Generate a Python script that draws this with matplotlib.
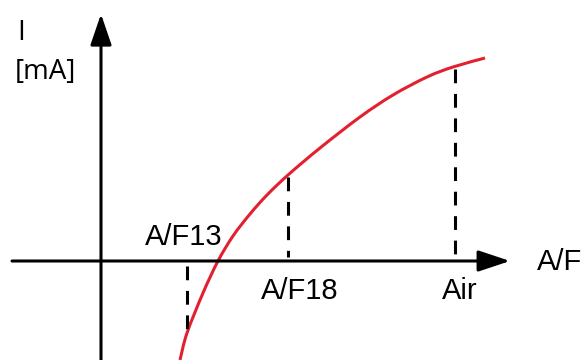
import matplotlib
matplotlib.use("Agg")
import matplotlib.pyplot as plt
import numpy as np
from matplotlib.path import Path
from matplotlib.patches import PathPatch

# Sensor current curve (schematic units; origin at axis crossing)
curve_x = [79, 86, 102, 117, 132, 149, 166, 187, 219, 259, 292, 326, 352, 384]
curve_y = [-99, -72, -32, 0, 25, 47, 66, 86, 113, 144, 166, 184, 194, 203]

# Marker positions (x) and the curve value there
marker_labels = ["A/F13", "A/F18", "Air"]
marker_x = [86, 187, 354]
marker_y = [-72, 86, 194]

fig = plt.figure(figsize=(5.85, 3.6), dpi=100)
ax = fig.add_axes([0, 0, 1, 1])
ax.set_xlim(-101, 484)
ax.set_ylim(-99, 261)
ax.axis("off")

red = "#e3202f"
lw = 2.2
# Axes with arrows
ax.annotate("", xy=(409, 0), xytext=(-89, 0),
            arrowprops=dict(arrowstyle="-|>,head_length=1.95,head_width=0.65",
                            mutation_scale=10, lw=lw, color="black",
                            shrinkA=0, shrinkB=0))
ax.annotate("", xy=(0, 247), xytext=(0, -99),
            arrowprops=dict(arrowstyle="-|>,head_length=1.9,head_width=0.65",
                            mutation_scale=10, lw=lw, color="black",
                            shrinkA=0, shrinkB=0))

# Dashed markers
for mx, my in zip(marker_x, marker_y):
    if my > 0:
        ax.plot([mx, mx], [my - 2, 4], color="black", lw=lw,
                linestyle=(0, (4.5, 3.5)), solid_capstyle="butt")
    else:
        ax.plot([mx, mx], [-5, my], color="black", lw=lw,
                linestyle=(0, (4.5, 3.5)), solid_capstyle="butt")

# Curve drawn as a smooth Bezier path through the read points
pts = np.column_stack([curve_x, curve_y]).astype(float)
verts = [pts[0]]
codes = [Path.MOVETO]
n = len(pts)
for i in range(n - 1):
    p0 = pts[i - 1] if i > 0 else pts[i]
    p1, p2 = pts[i], pts[i + 1]
    p3 = pts[i + 2] if i + 2 < n else pts[i + 1]
    c1 = p1 + (p2 - p0) / 6.0
    c2 = p2 - (p3 - p1) / 6.0
    verts += [c1, c2, p2]
    codes += [Path.CURVE4] * 3
ax.add_patch(PathPatch(Path(verts, codes), facecolor="none", edgecolor=red,
                       lw=lw, capstyle="butt"))

fs = 21
sans = "Liberation Sans"
ax.text(83, 24, marker_labels[0], fontsize=fs, family=sans, ha="center", va="center")
ax.text(199, -30, marker_labels[1], fontsize=fs, family=sans, ha="center", va="center")
ax.text(359, -30, marker_labels[2], fontsize=fs, family=sans, ha="center", va="center")
ax.text(436, -1, "A/F", fontsize=fs, family=sans, ha="left", va="center")

ax.text(-84, 228, "I", fontsize=20, family="Open Sans", ha="left", va="center")
ax.text(-86, 189, "[mA]", fontsize=20, family="Open Sans", ha="left", va="center")

fig.savefig("out.png", dpi=100)
